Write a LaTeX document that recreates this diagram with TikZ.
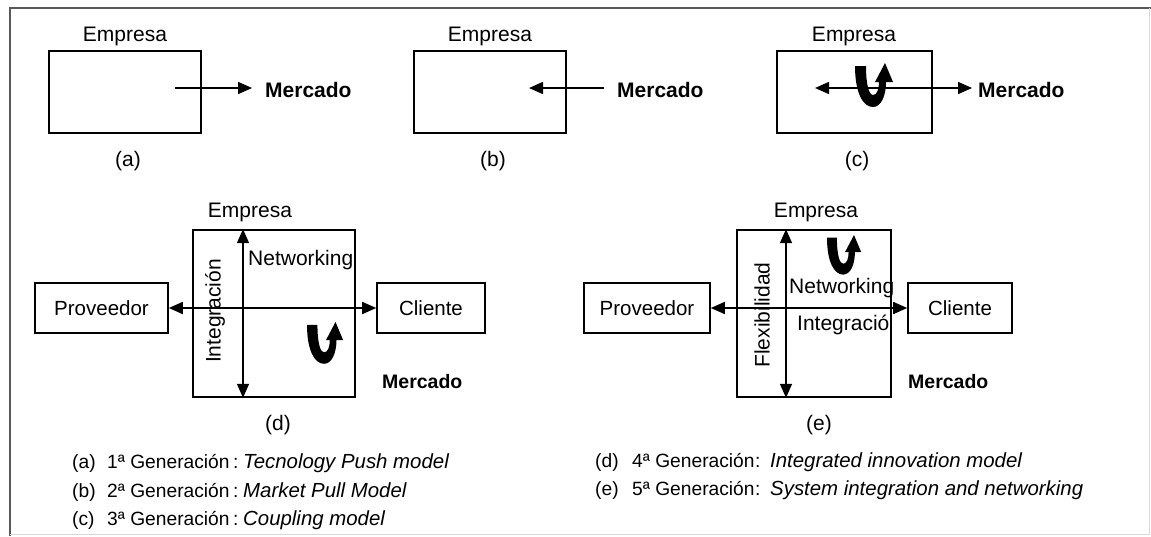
\documentclass[tikz,border=0pt]{standalone}
\usepackage{fontspec}
\setmainfont{Liberation Sans}
\usetikzlibrary{arrows.meta}
\begin{document}
\begin{tikzpicture}[x=1pt,y=-1pt,
  box/.style={draw, line width=1.6pt, inner sep=0pt, font=\fontsize{20.5}{24}\selectfont},
  lbl/.style={font=\fontsize{21}{24}\selectfont, inner sep=0pt, anchor=base},
  lblw/.style={font=\fontsize{21}{24}\selectfont, inner sep=0pt, anchor=base west},
  mkt/.style={font=\fontsize{21}{24}\selectfont\bfseries, inner sep=0pt, anchor=base west},
  mkts/.style={font=\fontsize{19.5}{24}\selectfont\bfseries, inner sep=0pt, anchor=base west},
  leg/.style={font=\fontsize{19.2}{22}\selectfont, inner sep=0pt, anchor=base west},
  tip/.style={line width=1.6pt},
  arr/.style={tip, -{Triangle[length=14pt,width=12pt]}},
  darr/.style={tip, {Triangle[length=14pt,width=12pt]}-{Triangle[length=14pt,width=12pt]}},
  uturn/.pic={\fill (0,3) -- (11,3) .. controls (11,22) and (14,32) .. (18,32)
     .. controls (22,32) and (24,26) .. (24,19) -- (20,19) -- (30,0) -- (38,19) -- (31,19)
     .. controls (31,33) and (26,44) .. (18,44) .. controls (8,44) and (0,30) .. (0,3) -- cycle;}
]
\useasboundingbox (0,0) rectangle (1151,536);
% frame
\draw[line width=2pt, black!65] (10,536) -- (10,8) -- (1151,8);
\draw[line width=1pt, black!15] (1149,8) -- (1149,534) -- (10,534);

% (a)
\node[box, minimum width=152pt, minimum height=82pt] (ba) at (125,92) {};
\node[lbl] (ea) at (125,41) {Empresa};
\node[mkt] (ma) at (265,97) {Mercado};
\coordinate (a1) at (175,88);
\draw[arr, shorten >=13pt] (a1) -- (a1 -| ma.west);
\node[lbl] (la) at (128,166) {(a)};

% (b)
\node[box, minimum width=152pt, minimum height=82pt] (bb) at (490,92) {};
\node[lbl] (eb) at (490,41) {Empresa};
\node[mkt] (mb) at (617,97) {Mercado};
\coordinate (b1) at (529,88);
\draw[arr, shorten <=13pt] (b1 -| mb.west) -- (b1);
\node[lbl] (lb) at (493,166) {(b)};

% (c)
\node[box, minimum width=155pt, minimum height=82pt] (bc) at (854.5,92) {};
\node[lbl] (ec) at (854,41) {Empresa};
\node[mkt] (mc) at (978,97) {Mercado};
\coordinate (c1) at (815,88);
\draw[darr, shorten >=6pt] (c1) -- (c1 -| mc.west);
\pic at (855,63) {uturn};
\node[lbl] (lc) at (857,166) {(c)};

% (d)
\node[box, minimum width=162pt, minimum height=167pt] (bd) at (274,313.5) {};
\node[box, minimum width=133pt, minimum height=50pt] (pd) at (101.5,308) {Proveedor};
\node[box, minimum width=108pt, minimum height=50pt] (cd) at (431,308) {Cliente};
\node[lbl] (ed) at (250,217) {Empresa};
\draw[darr] ([xshift=-31pt]bd.north) -- ([xshift=-31pt]bd.south);
\draw[darr] (pd.east) -- (cd.west);
\node[lblw] (nd) at (248,265) {Networking};
\node[font=\fontsize{21}{24}\selectfont, inner sep=0pt, rotate=90] (id) at (215,311) {Integración};
\pic[scale=0.95] at (307,322) {uturn};
\node[mkts] (md) at (382,388) {Mercado};
\node[lbl] (ld) at (278,430) {(d)};

% (e)
\node[box, minimum width=154pt, minimum height=167pt] (be) at (814,313.5) {};
\node[box, minimum width=126pt, minimum height=50pt] (pe) at (647,308) {Proveedor};
\node[box, minimum width=104pt, minimum height=50pt] (ce) at (960,308) {Cliente};
\node[lbl] (ee) at (816,217) {Empresa};
\draw[darr] ([xshift=-28pt]be.north) -- ([xshift=-28pt]be.south);
\draw[darr] (pe.east) -- (ce.west);
\node[font=\fontsize{21}{24}\selectfont, inner sep=0pt, rotate=90] (fe) at (762,315) {Flexibilidad};
\node[lblw] (ne) at (789,293) {Networking};
\node[lblw] (ie) at (797,330) {Integració};
\pic[scale=0.9] at (827,235) {uturn};
\node[mkts] (me) at (908,388) {Mercado};
\node[lbl] (le) at (819,430) {(e)};

% legend
\newcommand{\italpart}[1]{{\fontsize{20.4}{22}\selectfont\itshape #1}}
\node[leg] (ga) at (72,468) {\makebox[35pt][l]{(a)}\makebox[126pt][l]{1ª Generación}\makebox[10pt][l]{:}\italpart{Tecnology Push model}};
\node[leg] (gb) at (72,497) {\makebox[35pt][l]{(b)}\makebox[126pt][l]{2ª Generación}\makebox[10pt][l]{:}\italpart{Market Pull Model}};
\node[leg] (gc) at (72,525) {\makebox[35pt][l]{(c)}\makebox[126pt][l]{3ª Generación}\makebox[10pt][l]{:}\italpart{Coupling model}};
\node[leg] (gd) at (595,467) {\makebox[37pt][l]{(d)}\makebox[123pt][l]{4ª Generación}\makebox[15pt][l]{:}\italpart{Integrated innovation model}};
\node[leg] (ge) at (595,495) {\makebox[37pt][l]{(e)}\makebox[123pt][l]{5ª Generación}\makebox[15pt][l]{:}\italpart{System integration and networking}};
\end{tikzpicture}
\end{document}
